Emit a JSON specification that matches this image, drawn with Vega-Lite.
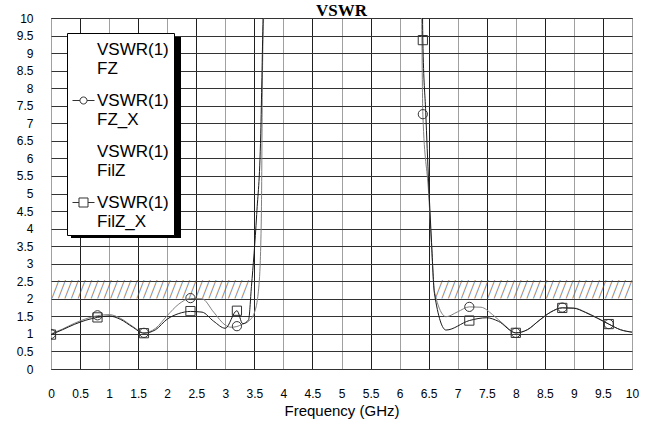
{
  "$schema": "https://vega.github.io/schema/vega-lite/v6.json",
  "autosize": "none",
  "width": 581,
  "height": 351,
  "padding": {"left": 51, "top": 18, "right": 14, "bottom": 59},
  "background": "white",
  "title": {"text": "VSWR", "font": "Liberation Serif", "fontSize": 17, "fontWeight": "bold", "anchor": "middle", "baseline": "alphabetic", "offset": 0, "dy": 21, "color": "black"},
  "config": {
    "view": {"stroke": "black", "strokeWidth": 1},
    "axis": {"labelFont": "Liberation Sans", "labelFontSize": 12, "labelColor": "black", "titleFont": "Liberation Sans", "titleFontWeight": "normal", "titleColor": "black", "ticks": false, "domain": false, "labelFlush": false, "labelOverlap": false, "gridOpacity": 1, "gridWidth": 1}
  },
  "datasets": {
    "curves": [
      {"s": "FZ", "f": 0, "v": 1.0}, {"s": "FZ", "f": 0.2, "v": 1.14}, {"s": "FZ", "f": 0.4, "v": 1.3}, {"s": "FZ", "f": 0.6, "v": 1.43}, {"s": "FZ", "f": 0.8, "v": 1.52}, {"s": "FZ", "f": 1.0, "v": 1.55}, {"s": "FZ", "f": 1.2, "v": 1.44}, {"s": "FZ", "f": 1.4, "v": 1.22}, {"s": "FZ", "f": 1.6, "v": 1.03}, {"s": "FZ", "f": 1.8, "v": 1.16}, {"s": "FZ", "f": 2.0, "v": 1.52}, {"s": "FZ", "f": 2.2, "v": 1.85}, {"s": "FZ", "f": 2.4, "v": 2.01}, {"s": "FZ", "f": 2.6, "v": 2.0}, {"s": "FZ", "f": 2.8, "v": 1.62}, {"s": "FZ", "f": 3.0, "v": 1.25}, {"s": "FZ", "f": 3.1, "v": 1.19}, {"s": "FZ", "f": 3.2, "v": 1.21}, {"s": "FZ", "f": 3.3, "v": 1.28}, {"s": "FZ", "f": 3.4, "v": 1.36}, {"s": "FZ", "f": 3.5, "v": 1.6}, {"s": "FZ", "f": 3.58, "v": 2.4}, {"s": "FZ", "f": 3.62, "v": 4.3}, {"s": "FZ", "f": 3.64, "v": 8.4}, {"s": "FZ", "f": 3.67, "v": 10.5}, {"s": "FZ", "f": 3.7, "v": 12}, {"s": "FZ", "f": 6.36, "v": 12}, {"s": "FZ", "f": 6.38, "v": 10}, {"s": "FZ", "f": 6.4, "v": 7.26}, {"s": "FZ", "f": 6.5, "v": 5.0}, {"s": "FZ", "f": 6.55, "v": 3.5}, {"s": "FZ", "f": 6.6, "v": 2.2}, {"s": "FZ", "f": 6.8, "v": 1.49}, {"s": "FZ", "f": 7.0, "v": 1.63}, {"s": "FZ", "f": 7.2, "v": 1.77}, {"s": "FZ", "f": 7.4, "v": 1.76}, {"s": "FZ", "f": 7.6, "v": 1.55}, {"s": "FZ", "f": 7.8, "v": 1.26}, {"s": "FZ", "f": 8.0, "v": 1.03}, {"s": "FZ", "f": 8.2, "v": 1.12}, {"s": "FZ", "f": 8.4, "v": 1.38}, {"s": "FZ", "f": 8.6, "v": 1.62}, {"s": "FZ", "f": 8.8, "v": 1.75}, {"s": "FZ", "f": 9.0, "v": 1.74}, {"s": "FZ", "f": 9.2, "v": 1.62}, {"s": "FZ", "f": 9.4, "v": 1.46}, {"s": "FZ", "f": 9.6, "v": 1.28}, {"s": "FZ", "f": 9.8, "v": 1.12}, {"s": "FZ", "f": 10, "v": 1.05},
      {"s": "FilZ", "f": 0, "v": 0.98}, {"s": "FilZ", "f": 0.2, "v": 1.12}, {"s": "FilZ", "f": 0.4, "v": 1.27}, {"s": "FilZ", "f": 0.6, "v": 1.39}, {"s": "FilZ", "f": 0.8, "v": 1.47}, {"s": "FilZ", "f": 1.0, "v": 1.51}, {"s": "FilZ", "f": 1.2, "v": 1.41}, {"s": "FilZ", "f": 1.4, "v": 1.2}, {"s": "FilZ", "f": 1.6, "v": 1.02}, {"s": "FilZ", "f": 1.8, "v": 1.12}, {"s": "FilZ", "f": 2.0, "v": 1.42}, {"s": "FilZ", "f": 2.2, "v": 1.58}, {"s": "FilZ", "f": 2.4, "v": 1.64}, {"s": "FilZ", "f": 2.6, "v": 1.62}, {"s": "FilZ", "f": 2.8, "v": 1.36}, {"s": "FilZ", "f": 3.0, "v": 1.16}, {"s": "FilZ", "f": 3.2, "v": 1.66}, {"s": "FilZ", "f": 3.3, "v": 1.29}, {"s": "FilZ", "f": 3.4, "v": 1.4}, {"s": "FilZ", "f": 3.45, "v": 2.35}, {"s": "FilZ", "f": 3.54, "v": 4.4}, {"s": "FilZ", "f": 3.61, "v": 6.7}, {"s": "FilZ", "f": 3.63, "v": 8.3}, {"s": "FilZ", "f": 3.65, "v": 10}, {"s": "FilZ", "f": 3.7, "v": 12}, {"s": "FilZ", "f": 6.38, "v": 12}, {"s": "FilZ", "f": 6.4, "v": 9.37}, {"s": "FilZ", "f": 6.45, "v": 7.3}, {"s": "FilZ", "f": 6.5, "v": 5.3}, {"s": "FilZ", "f": 6.55, "v": 3.6}, {"s": "FilZ", "f": 6.6, "v": 2.15}, {"s": "FilZ", "f": 6.8, "v": 1.11}, {"s": "FilZ", "f": 7.2, "v": 1.38}, {"s": "FilZ", "f": 7.5, "v": 1.46}, {"s": "FilZ", "f": 7.7, "v": 1.36}, {"s": "FilZ", "f": 8.0, "v": 1.03}, {"s": "FilZ", "f": 8.2, "v": 1.12}, {"s": "FilZ", "f": 8.4, "v": 1.38}, {"s": "FilZ", "f": 8.6, "v": 1.62}, {"s": "FilZ", "f": 8.8, "v": 1.74}, {"s": "FilZ", "f": 9.0, "v": 1.73}, {"s": "FilZ", "f": 9.2, "v": 1.61}, {"s": "FilZ", "f": 9.4, "v": 1.45}, {"s": "FilZ", "f": 9.6, "v": 1.28}, {"s": "FilZ", "f": 9.8, "v": 1.12}, {"s": "FilZ", "f": 10, "v": 1.05}
    ],
    "markers": [
      {"s": "FZ_X", "f": 0, "v": 1.0}, {"s": "FZ_X", "f": 0.8, "v": 1.53}, {"s": "FZ_X", "f": 1.6, "v": 1.03}, {"s": "FZ_X", "f": 2.4, "v": 2.02}, {"s": "FZ_X", "f": 3.2, "v": 1.22}, {"s": "FZ_X", "f": 6.4, "v": 7.26}, {"s": "FZ_X", "f": 7.2, "v": 1.77}, {"s": "FZ_X", "f": 8.0, "v": 1.03}, {"s": "FZ_X", "f": 8.8, "v": 1.75}, {"s": "FZ_X", "f": 9.6, "v": 1.28},
      {"s": "FilZ_X", "f": 0, "v": 0.98}, {"s": "FilZ_X", "f": 0.8, "v": 1.47}, {"s": "FilZ_X", "f": 1.6, "v": 1.02}, {"s": "FilZ_X", "f": 2.4, "v": 1.65}, {"s": "FilZ_X", "f": 3.2, "v": 1.66}, {"s": "FilZ_X", "f": 6.4, "v": 9.37}, {"s": "FilZ_X", "f": 7.2, "v": 1.38}, {"s": "FilZ_X", "f": 8.0, "v": 1.03}, {"s": "FilZ_X", "f": 8.8, "v": 1.74}, {"s": "FilZ_X", "f": 9.6, "v": 1.28}
    ],
    "bands": [
      {"start": 0, "end": 3.45, "lo": 2, "hi": 2.5},
      {"start": 6.6, "end": 10, "lo": 2, "hi": 2.5}
    ]
  },
  "layer": [
    {
      "data": {"name": "bands"},
      "mark": {"type": "text", "align": "left", "baseline": "middle", "font": "Roboto", "fontWeight": 100, "fontSize": 24, "color": "#555555", "clip": true, "text": "//////////////////////////////"},
      "encoding": {
        "x": {"field": "start", "type": "quantitative", "scale": {"domain": [0, 10], "nice": false}, "axis": {"values": [0, 0.5, 1, 1.5, 2, 2.5, 3, 3.5, 4, 4.5, 5, 5.5, 6, 6.5, 7, 7.5, 8, 8.5, 9, 9.5, 10], "format": "~r", "title": "Frequency (GHz)", "titleFontSize": 15, "labelPadding": 19, "titlePadding": 4, "gridColor": {"condition": {"test": "datum.value % 1 === 0", "value": "#a0a0a0"}, "value": "#202020"}}},
        "y": {"datum": 2.25, "type": "quantitative", "scale": {"domain": [0, 10], "nice": false}, "axis": {"values": [0, 0.5, 1, 1.5, 2, 2.5, 3, 3.5, 4, 4.5, 5, 5.5, 6, 6.5, 7, 7.5, 8, 8.5, 9, 9.5, 10], "format": "~r", "title": null, "labelPadding": 18, "grid": true, "gridColor": "#333333"}}
      }
    },
    {
      "data": {"name": "curves"},
      "mark": {"type": "line", "strokeWidth": 1, "clip": true, "interpolate": "monotone"},
      "encoding": {
        "x": {"field": "f", "type": "quantitative", "axis": {"values": [0, 0.5, 1, 1.5, 2, 2.5, 3, 3.5, 4, 4.5, 5, 5.5, 6, 6.5, 7, 7.5, 8, 8.5, 9, 9.5, 10], "format": "~r", "title": "Frequency (GHz)", "titleFontSize": 15, "labelPadding": 19, "titlePadding": 4, "gridColor": {"condition": {"test": "datum.value % 1 === 0", "value": "#a0a0a0"}, "value": "#202020"}}},
        "y": {"field": "v", "type": "quantitative", "axis": {"values": [0, 0.5, 1, 1.5, 2, 2.5, 3, 3.5, 4, 4.5, 5, 5.5, 6, 6.5, 7, 7.5, 8, 8.5, 9, 9.5, 10], "format": "~r", "title": null, "labelPadding": 18, "grid": true, "gridColor": "#333333"}},
        "color": {"field": "s", "type": "nominal", "scale": {"domain": ["FZ", "FilZ"], "range": ["#808080", "#1a1a1a"]}, "legend": null}
      }
    },
    {
      "data": {"name": "markers"},
      "mark": {"type": "point", "filled": false, "strokeWidth": 1, "color": "#333333", "size": 85, "opacity": 1, "clip": true},
      "encoding": {
        "x": {"field": "f", "type": "quantitative", "axis": {"values": [0, 0.5, 1, 1.5, 2, 2.5, 3, 3.5, 4, 4.5, 5, 5.5, 6, 6.5, 7, 7.5, 8, 8.5, 9, 9.5, 10], "format": "~r", "title": "Frequency (GHz)", "titleFontSize": 15, "labelPadding": 19, "titlePadding": 4, "gridColor": {"condition": {"test": "datum.value % 1 === 0", "value": "#a0a0a0"}, "value": "#202020"}}},
        "y": {"field": "v", "type": "quantitative", "axis": {"values": [0, 0.5, 1, 1.5, 2, 2.5, 3, 3.5, 4, 4.5, 5, 5.5, 6, 6.5, 7, 7.5, 8, 8.5, 9, 9.5, 10], "format": "~r", "title": null, "labelPadding": 18, "grid": true, "gridColor": "#333333"}},
        "shape": {"field": "s", "type": "nominal", "scale": {"domain": ["FZ_X", "FilZ_X"], "range": ["circle", "square"]}, "legend": null}
      }
    },
    {
      "data": {"values": []},
      "mark": {"type": "point", "filled": true, "color": "black"},
      "encoding": {
        "fill": {"field": "box", "type": "nominal", "scale": {"domain": ["shadow"], "range": ["black"]},
          "legend": {"orient": "none", "legendX": 20, "legendY": 19, "title": null, "fillColor": null, "strokeColor": null, "padding": 0, "labelExpr": "''", "labelOffset": 0, "symbolSize": 12100, "symbolType": "M-1,-1L1,-1L1,2.655L-1,2.655Z", "symbolFillColor": "black", "symbolStrokeColor": "black", "symbolStrokeWidth": 0, "symbolOpacity": 1}}
      }
    },
    {
      "data": {"values": []},
      "mark": {"type": "point", "filled": false, "color": "#333333"},
      "encoding": {
        "shape": {"field": "entry", "type": "nominal", "scale": {"domain": ["FZ", "FZ_X", "FilZ", "FilZ_X"], "range": ["M0,0L0,0", "M-1,0L-0.32,0M0.32,0L1,0M-0.32,0A0.32,0.32,0,1,1,0.32,0A0.32,0.32,0,1,1,-0.32,0Z", "M0,0L0,0", "M-1,0L-0.41,0M0.41,0L1,0M-0.41,-0.41L0.41,-0.41L0.41,0.41L-0.41,0.41Z"]},
          "legend": {"orient": "none", "legendX": 16, "legendY": 15, "title": null, "fillColor": "white", "strokeColor": "black", "padding": 5, "labelFont": "Liberation Sans", "labelFontSize": 17, "labelColor": "black", "labelLimit": 0, "labelOffset": 2, "symbolSize": 484, "symbolStrokeColor": "#333333", "symbolStrokeWidth": 1, "symbolFillColor": "transparent", "symbolOpacity": 1, "rowPadding": 12, "labelExpr": "['VSWR(1)', datum.label]"}}
      }
    }
  ],
  "resolve": {"scale": {"shape": "independent", "color": "independent", "fill": "independent"}, "legend": {"shape": "independent", "fill": "independent"}}
}
